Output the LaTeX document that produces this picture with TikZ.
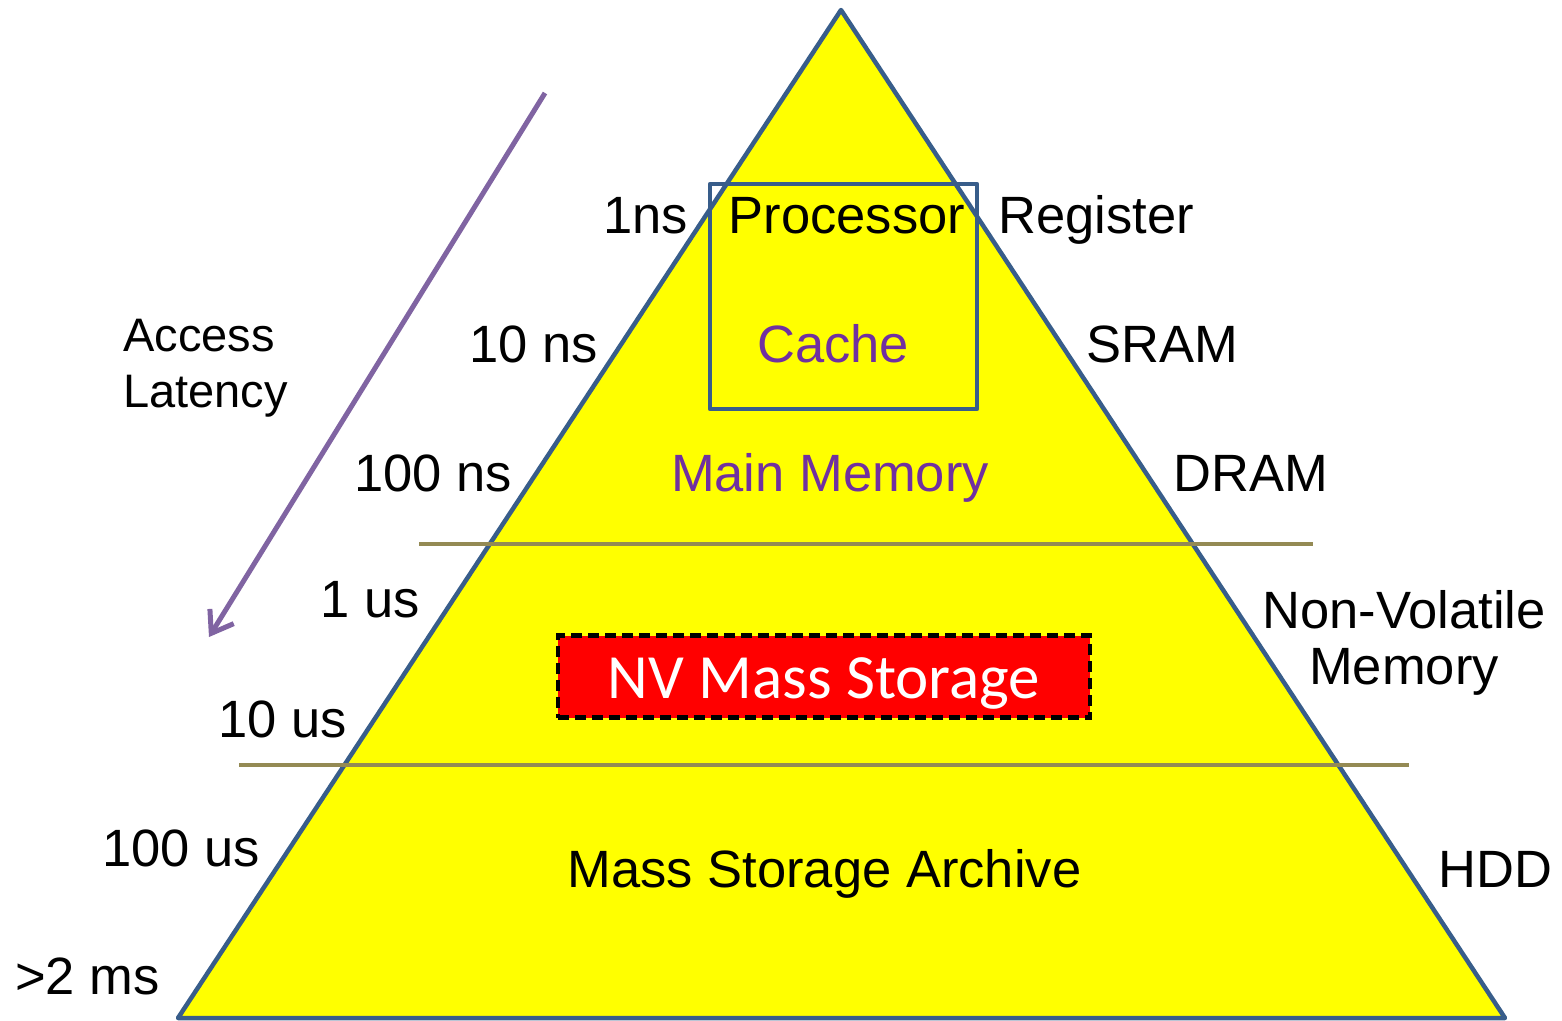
\documentclass[tikz,border=0pt]{standalone}
\usepackage{fontspec}
\setmainfont{Liberation Sans}
\newfontfamily\calibrifont{Carlito}
\usetikzlibrary{arrows.meta}
\definecolor{edgeblue}{HTML}{385D8A}
\definecolor{bandline}{HTML}{948A54}
\definecolor{arrowpurple}{HTML}{8064A2}
\definecolor{textpurple}{HTML}{7030A0}
\definecolor{pyramidfill}{RGB}{255,255,0}
\definecolor{boxred}{RGB}{255,0,0}
\begin{document}
\begin{tikzpicture}[x=1pt,y=-1pt,
  lbl/.style={inner sep=0pt, font=\fontsize{52.5}{56}\selectfont},
  levelname/.style={lbl, anchor=base},
  leftlbl/.style={lbl, anchor=base east},
  rightlbl/.style={lbl, anchor=base west},
  band/.style={draw=bandline, line width=4.5pt},
  outline/.style={draw=edgeblue, line width=4.5pt, line join=round}]
\useasboundingbox (0,0) rectangle (1562,1020);

% pyramid
\coordinate (apex) at (841,10);
\coordinate (baseL) at (178,1018);
\coordinate (baseR) at (1505,1018);
\filldraw[fill=pyramidfill, outline] (apex) -- (baseL) -- (baseR) -- cycle;

% level separators
\coordinate (sepAL) at (419,544);
\coordinate (sepAR) at (1313,544);
\coordinate (sepBL) at (239,765);
\coordinate (sepBR) at (1409,765);
\draw[band] (sepAL) -- (sepAR);
\draw[band] (sepBL) -- (sepBR);

% processor / cache frame
\node (cpubox) [outline, inner sep=0pt, minimum width=267pt, minimum height=225pt] at (843.5,296.5) {};

% non-volatile storage box
\node (nvbox) [fill=boxred, draw=black, line width=4.5pt, dash pattern=on 11pt off 6pt,
  inner sep=0pt, minimum width=532pt, minimum height=82pt] at (824,676.5) {};
\node (nvtext) [inner sep=0pt, anchor=base, text=white,
  font=\calibrifont\fontsize{63}{70}\selectfont] at (824,698) {NV Mass Storage};

% level names
\node (proc) [levelname] at (847,233) {Processor};
\node (cache) [levelname, text=textpurple] at (833,362) {Cache};
\node (mainmem) [levelname, text=textpurple] at (830,491) {Main Memory};
\node (archive) [levelname] at (824.5,887) {Mass Storage Archive};

% latencies
\node (t1ns) [leftlbl] at (688,233) {1ns};
\node (t10ns) [leftlbl] at (598,362) {10 ns};
\node (t100ns) [leftlbl] at (512,491) {100 ns};
\node (t1us) [leftlbl] at (420,617) {1 us};
\node (t10us) [leftlbl] at (347,737) {10 us};
\node (t100us) [leftlbl] at (260,866) {100 us};
\node (t2ms) [rightlbl] at (15,994) {>2 ms};

% technologies
\node (reg) [rightlbl] at (998,233) {Register};
\node (sram) [rightlbl] at (1086,362) {SRAM};
\node (dram) [rightlbl] at (1173,491) {DRAM};
\node (nvm) [lbl, align=center, anchor=north] at (1404,590) {Non-Volatile\\Memory};
\node (hdd) [rightlbl] at (1438,887) {HDD};

% access latency arrow
\node (acclat) [inner sep=0pt, font=\fontsize{47}{56}\selectfont, align=left, anchor=north west]
  at (123,318.5) {Access\\Latency};
\coordinate (latstart) at (545,93);
\coordinate (latend) at (209,637);
\draw[arrowpurple, line width=5pt, -{Straight Barb[length=20pt,width=28pt]}] (latstart) -- (latend);
\end{tikzpicture}
\end{document}
